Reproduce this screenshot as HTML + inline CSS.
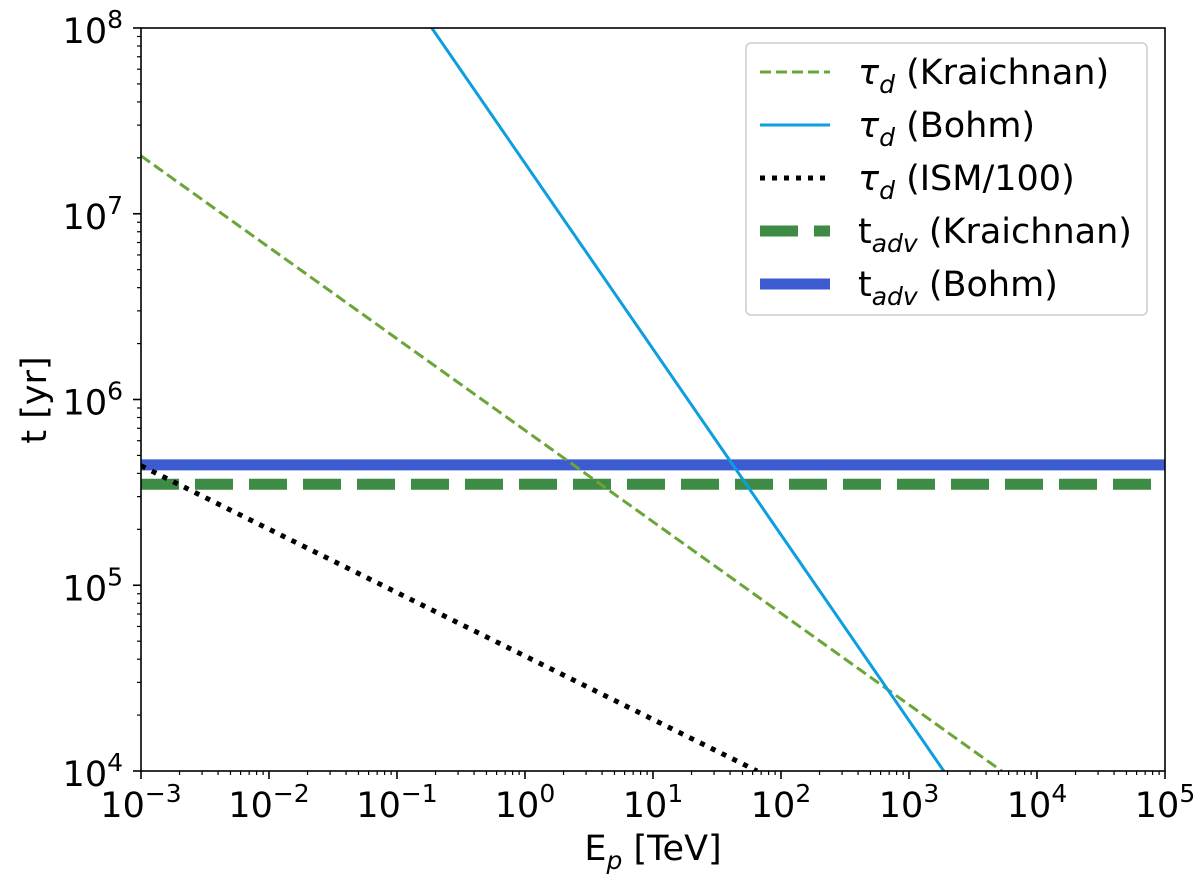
<!DOCTYPE html>
<html><head><meta charset="utf-8"><style>
body{margin:0;background:#fff}
svg text{font-family:"DejaVu Sans","Liberation Sans",sans-serif;fill:#000}
</style></head><body>
<svg id="chart" width="1200" height="878" viewBox="0 0 1200 878">
<defs><clipPath id="clip"><rect x="141" y="28" width="1024" height="743"/></clipPath></defs>
<g id="marks" clip-path="url(#clip)"></g>
<g id="axes"></g>
<g id="legend"></g>
</svg>
<script>
const xTickExp = [-3,-2,-1,0,1,2,3,4,5];
const yTickExp = [4,5,6,7,8];
const kraichnanE = [1e-3, 5.3e3];
const kraichnanT = [2.05e7, 1e4];
const bohmE = [0.187, 1.87e3];
const bohmT = [1e8, 1e4];
const ismE = [1e-3, 65];
const ismT = [4.4e5, 1e4];
const advKraichnanT = [3.5e5];
const advBohmT = [4.45e5];
const seriesNames = ["τ_d (Kraichnan)","τ_d (Bohm)","τ_d (ISM/100)","t_adv (Kraichnan)","t_adv (Bohm)"];

const L=141,R=1165,T=28,B=771;
const xs=e=>L+(Math.log10(e)+3)/8*(R-L);
const ys=t=>B-(Math.log10(t)-4)/4*(B-T);
const NS="http://www.w3.org/2000/svg";
function mk(tag,attrs,parent){const el=document.createElementNS(NS,tag);for(const k in attrs)el.setAttribute(k,attrs[k]);parent.appendChild(el);return el;}
const marks=document.getElementById('marks'),axes=document.getElementById('axes'),leg=document.getElementById('legend');

function line(E,Tv,style,name){
  const el=mk('polyline',Object.assign({points:E.map((e,i)=>xs(e)+','+ys(Tv[i])).join(' '),fill:'none'},style),marks);
  
  
}
const sK={stroke:'#6aa537','stroke-width':3,'stroke-dasharray':'11,5'};
const sB={stroke:'#0d9ee0','stroke-width':3};
const sI={stroke:'#000','stroke-width':5,'stroke-dasharray':'5,7'};
const sAK={stroke:'#3d8b45','stroke-width':11,'stroke-dasharray':'38,16'};
const sAB={stroke:'#3d5bd0','stroke-width':11};
line([1e-3,1e5],[advKraichnanT[0],advKraichnanT[0]],sAK,'t-adv-kraichnan-line');
line([1e-3,1e5],[advBohmT[0],advBohmT[0]],sAB,'t-adv-bohm-line');
line(kraichnanE,kraichnanT,sK,'tau-d-kraichnan-line');
line(bohmE,bohmT,sB,'tau-d-bohm-line');
line(ismE,ismT,sI,'tau-d-ism-line');

const frame=mk('rect',{x:L,y:T,width:R-L,height:B-T,fill:'none',stroke:'#000','stroke-width':1.6},axes);


function sup(parent,x,y,exp,anchor){
  const t=mk('text',{x:x,y:y,'font-size':35,'text-anchor':anchor},parent);
  t.innerHTML='10<tspan dy="-15" font-size="25">'+(exp<0?'\u2212'+(-exp):exp)+'</tspan>';
  return t;
}
xTickExp.forEach(e=>{
  const x=L+(e+3)/8*(R-L);
  mk('line',{x1:x,y1:B,x2:x,y2:B+8,stroke:'#000','stroke-width':1.6},axes);
  if(e<5)for(let m=2;m<10;m++){const xm=xs(Math.pow(10,e)*m);mk('line',{x1:xm,y1:B,x2:xm,y2:B+4,stroke:'#000','stroke-width':1.2},axes);}
  const t=sup(axes,x,B+46,e,'middle');
  
  
});
yTickExp.forEach(e=>{
  const y=B-(e-4)/4*(B-T);
  mk('line',{x1:L-8,y1:y,x2:L,y2:y,stroke:'#000','stroke-width':1.6},axes);
  if(e<8)for(let m=2;m<10;m++){const ym=ys(Math.pow(10,e)*m);mk('line',{x1:L-4,y1:ym,x2:L,y2:ym,stroke:'#000','stroke-width':1.2},axes);}
  const t=sup(axes,L-18,y+15,e,'end');
  
  
});
const xt=mk('text',{x:653,y:860,'font-size':35,'text-anchor':'middle'},axes);
xt.innerHTML='E<tspan dy="9" font-size="25" font-style="italic">p</tspan><tspan dy="-9"> [TeV]</tspan>';


const yt=mk('text',{x:0,y:0,'font-size':35,'text-anchor':'middle',transform:'translate(46,400) rotate(-90)'},axes);
yt.textContent='t [yr]';



const box=mk('rect',{x:746,y:43,width:401,height:272,rx:5,fill:'#fff','fill-opacity':0.8,stroke:'#ccc','stroke-width':1.5},leg);


const styles=[sK,sB,sI,sAK,sAB];
seriesNames.forEach((n,i)=>{
  const y=72+i*53;
  const st=Object.assign({},styles[i]);
  const g=mk('g',{},leg);
  
  
  mk('line',Object.assign({x1:760,y1:y,x2:830,y2:y},st),g);
  const parts=n.split(' ');const base=parts[0].split('_');
  const t=mk('text',{x:858,y:y+12,'font-size':35},g);
  const first=base[0]==='τ'?'<tspan font-style="italic">τ</tspan>':base[0];
  t.innerHTML=first+'<tspan dy="9" font-size="25" font-style="italic">'+base[1]+'</tspan><tspan dy="-9"> '+parts.slice(1).join(' ')+'</tspan>';
});
</script>
</body></html>
